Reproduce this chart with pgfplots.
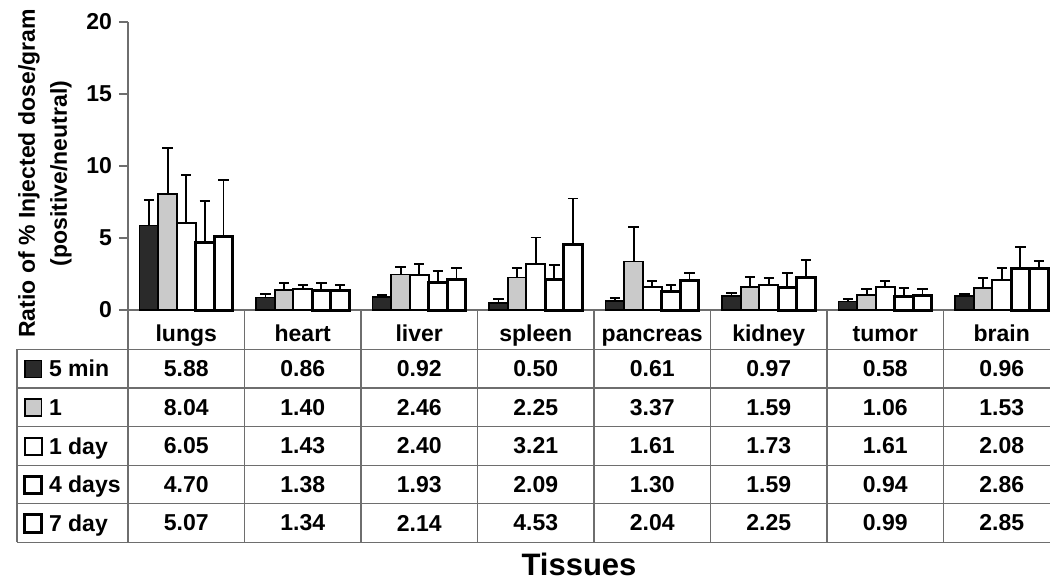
\documentclass[border=0pt]{standalone}
\usepackage{pgfplots}
\pgfplotsset{compat=1.18}
\usepackage{pgfplotstable}
\usepackage{fontspec}
\setmainfont{Liberation Sans}

% values (mean) and upper error (SD) per tissue and time point
\pgfplotstableread{
idx m5   h1   d1   d4   d7   em5  eh1  ed1  ed4  ed7
0   5.88 8.04 6.05 4.70 5.07 1.76 3.20 3.30 2.87 3.96
1   0.86 1.40 1.43 1.38 1.34 0.23 0.50 0.31 0.52 0.40
2   0.92 2.46 2.40 1.93 2.14 0.14 0.55 0.79 0.78 0.75
3   0.50 2.25 3.21 2.09 4.53 0.26 0.64 1.83 1.03 3.22
4   0.61 3.37 1.61 1.30 2.04 0.22 2.41 0.42 0.43 0.53
5   0.97 1.59 1.73 1.59 2.25 0.23 0.72 0.47 1.00 1.22
6   0.58 1.06 1.61 0.94 0.99 0.18 0.40 0.42 0.61 0.45
7   0.96 1.53 2.08 2.86 2.85 0.13 0.67 0.86 1.49 0.55
}\data

\definecolor{darkbar}{HTML}{2A2A2A}
\definecolor{lightbar}{HTML}{CACACA}
\definecolor{gridgray}{HTML}{6E6E6E}

\pgfplotsset{
  mybar/.style={draw=black,
    error bars/y dir=plus, error bars/y explicit,
    error bars/error bar style={black, line width=0.9pt},
    error bars/error mark options={black, line width=0.9pt, mark size=2.6pt, rotate=90},
    legend image code/.code={\draw[##1] (0pt,-3.3pt) rectangle (8.3pt,5.3pt);}},
  tabrow/.style={forget plot, draw=none, fill=none, mark=none, bar shift=0, point meta=explicit,
    nodes near coords={\pgfmathprintnumber[fixed,fixed zerofill,precision=2]{\pgfplotspointmeta}},
    every node near coord/.append style={anchor=center, inner sep=0pt, font=\bfseries\fontsize{11.5}{13}\selectfont}},
}

\begin{document}
\begin{tikzpicture}[font=\bfseries\fontsize{11.5}{13}\selectfont]
\begin{axis}[
  scale only axis, width=466pt, height=144pt,
  ybar=0pt, bar width=0.16,
  xmin=-0.5, xmax=7.5, ymin=0, ymax=20,
  axis x line*=bottom, axis y line*=left,
  x axis line style={gridgray, line width=0.6pt},
  y axis line style={gridgray, line width=0.6pt},
  xtick={0,...,7},
  xticklabels={lungs,heart,liver,spleen,pancreas,kidney,tumor,brain},
  xtick style={draw=none},
  xticklabel style={text height=8.2pt, text depth=2.5pt, inner sep=3pt, font=\bfseries\fontsize{11.5}{13}\selectfont},
  ytick={0,5,10,15,20},
  ytick style={gridgray, line width=0.6pt},
  yticklabel style={font=\bfseries\fontsize{11.5}{13}\selectfont},
  tick align=outside, major tick length=4.5pt,
  /pgf/number format/assume math mode=true,
  clip=false,
  ylabel={Ratio of \% Injected dose/gram\\(positive/neutral)},
  ylabel style={at={(rel axis cs:-0.0891,0.474)}, anchor=center, align=center,
    font=\bfseries\fontsize{11.5}{16}\selectfont},
  xlabel={Tissues},
  xlabel style={at={(rel axis cs:0.4839,-0.922)}, anchor=base,
    font=\bfseries\fontsize{15.5}{18}\selectfont},
  legend style={at={(rel axis cs:-0.11266,-0.1684)}, anchor=north west,
    draw=none, fill=none, inner sep=0pt, row sep=7.3pt, column sep=3pt,
    font=\bfseries\fontsize{11.5}{13}\selectfont,
    nodes={inner sep=0pt, text height=9pt, text depth=3pt}},
  legend cell align=left,
]
% bars
\addplot[mybar, bar shift=-0.32, fill=darkbar, line width=0.8pt]
  table[x=idx, y=m5, y error=em5] {\data};
\addlegendentry{5 min}
\addplot[mybar, bar shift=-0.16, fill=lightbar, line width=0.8pt]
  table[x=idx, y=h1, y error=eh1] {\data};
\addlegendentry{1}
\addplot[mybar, bar shift=0, fill=white, line width=1.0pt]
  table[x=idx, y=d1, y error=ed1] {\data};
\addlegendentry{1 day}
\addplot[mybar, bar shift=0.16, fill=white, line width=1.5pt]
  table[x=idx, y=d4, y error=ed4] {\data};
\addlegendentry{4 days}
\addplot[mybar, bar shift=0.32, fill=white, line width=1.5pt]
  table[x=idx, y=d7, y error=ed7] {\data};
\addlegendentry{7 day}

% data table below the chart
\addplot[tabrow] table[x=idx, y expr=-4.069,  meta=m5] {\data};
\addplot[tabrow] table[x=idx, y expr=-6.750,  meta=h1] {\data};
\addplot[tabrow] table[x=idx, y expr=-9.431,  meta=d1] {\data};
\addplot[tabrow] table[x=idx, y expr=-12.111, meta=d4] {\data};
\addplot[tabrow] table[x=idx, y expr=-14.792, meta=d7] {\data};

% table rules
\pgfplotsinvokeforeach{-2.729,-5.410,-8.090,-10.771,-13.451,-16.132}{
  \draw[gridgray, line width=0.6pt] (axis cs:-1.4528,#1) -- (axis cs:7.5,#1);
}
\pgfplotsinvokeforeach{-0.5,0.5,1.5,2.5,3.5,4.5,5.5,6.5,7.5}{
  \draw[gridgray, line width=0.6pt] (axis cs:#1,0) -- (axis cs:#1,-16.132);
}
\draw[gridgray, line width=0.6pt] (axis cs:-1.4528,-2.729) -- (axis cs:-1.4528,-16.132);
\end{axis}
\pgfresetboundingbox
\path[use as bounding box] (-64pt,-134.5pt) rectangle (461pt,155pt);
\end{tikzpicture}
\end{document}
